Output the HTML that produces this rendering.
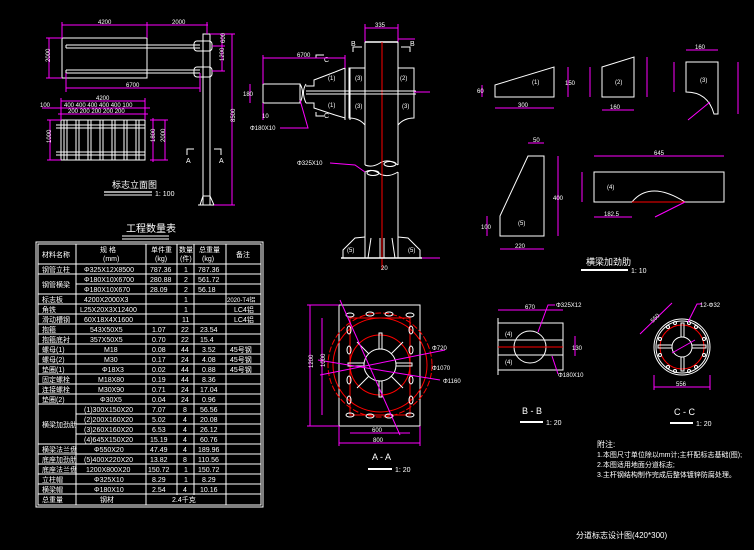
<!DOCTYPE html>
<html><head><meta charset="utf-8"><style>
html,body{margin:0;padding:0;background:#000;width:754px;height:550px;overflow:hidden}
svg{display:block}
text{font-family:"Liberation Sans","Noto Sans CJK SC",sans-serif;fill:#fff}
.w{stroke:#fff;fill:none;stroke-width:1}
.m{stroke:#f0f;fill:none;stroke-width:1}
.r{stroke:#f00;fill:none;stroke-width:1}
.t{font-size:7px}
.mt{font-size:6px}
</style></head><body>
<svg width="754" height="550" viewBox="0 0 754 550" xmlns="http://www.w3.org/2000/svg">
<rect width="754" height="550" fill="#000"/>

<!-- ========== Top-left front elevation ========== -->
<g>
<rect class="w" x="62" y="38" width="85" height="40"/>
<line class="w" x1="66" y1="45" x2="200" y2="45"/><line class="w" x1="66" y1="48" x2="200" y2="48"/>
<line class="w" x1="66" y1="45" x2="66" y2="48"/>
<line class="w" x1="66" y1="70" x2="200" y2="70"/><line class="w" x1="66" y1="73" x2="200" y2="73"/>
<line class="w" x1="66" y1="70" x2="66" y2="73"/>
<rect class="w" x="194" y="41" width="18" height="10" rx="3"/>
<rect class="w" x="194" y="67" width="18" height="10" rx="3"/>
<rect class="w" x="203" y="34" width="7" height="171"/>
<path class="w" d="M200 205 L203 196 L210 196 L214 205 Z"/>
<line class="w" x1="198" y1="205" x2="216" y2="205"/>
<path class="w" d="M187 155 V149 H194 M214 149 H221 V155"/>
<text class="t" x="186" y="163">A</text><text class="t" x="219" y="163">A</text>
<!-- dims -->
<line class="m" x1="62" y1="25" x2="208" y2="25"/><line class="m" x1="62" y1="22" x2="62" y2="38"/>
<line class="m" x1="147" y1="22" x2="147" y2="38"/><line class="m" x1="207" y1="22" x2="207" y2="34"/>
<text class="mt" x="98" y="24">4200</text><text class="mt" x="172" y="24">2000</text>
<line class="m" x1="49" y1="38" x2="49" y2="78"/><line class="m" x1="46" y1="38" x2="62" y2="38"/><line class="m" x1="46" y1="78" x2="62" y2="78"/>
<text class="mt" x="42" y="62" transform="rotate(-90 46 58)">2000</text>
<line class="m" x1="66" y1="88" x2="200" y2="88"/><line class="m" x1="66" y1="73" x2="66" y2="92"/><line class="m" x1="200" y1="73" x2="200" y2="92"/>
<text class="mt" x="126" y="87">6700</text>
<line class="m" x1="232" y1="34" x2="232" y2="205"/><line class="m" x1="210" y1="34" x2="235" y2="34"/><line class="m" x1="214" y1="205" x2="235" y2="205"/>
<text class="mt" x="228" y="125" transform="rotate(-90 230 120)">8500</text>
<line class="m" x1="222" y1="34" x2="222" y2="71"/><line class="m" x1="212" y1="46" x2="225" y2="46"/><line class="m" x1="212" y1="71" x2="225" y2="71"/>
<text class="mt" x="217" y="45" transform="rotate(-90 220 40)">600</text>
<text class="mt" x="217" y="62" transform="rotate(-90 220 58)">1200</text>
<text x="112" y="188" style="font-size:9px">标志立面图</text>
<line x1="104" y1="192" x2="152" y2="192" stroke="#fff" stroke-width="1.2"/><line x1="104" y1="195" x2="152" y2="195" stroke="#fff"/>
<text class="t" x="155" y="196">1: 100</text>
</g>

<!-- plan -->
<g>
<rect class="w" x="61" y="120" width="84" height="40"/>
<line class="w" x1="56" y1="125" x2="145" y2="125"/><line class="w" x1="56" y1="128" x2="145" y2="128"/>
<line class="w" x1="56" y1="152" x2="145" y2="152"/><line class="w" x1="56" y1="155" x2="145" y2="155"/>
<g class="w">
<line x1="64" y1="120" x2="64" y2="160"/><line x1="67" y1="120" x2="67" y2="160"/>
<line x1="76" y1="120" x2="76" y2="160"/><line x1="79" y1="120" x2="79" y2="160"/>
<line x1="88" y1="120" x2="88" y2="160"/><line x1="91" y1="120" x2="91" y2="160"/>
<line x1="100" y1="120" x2="100" y2="160"/><line x1="103" y1="120" x2="103" y2="160"/>
<line x1="112" y1="120" x2="112" y2="160"/><line x1="115" y1="120" x2="115" y2="160"/>
<line x1="124" y1="120" x2="124" y2="160"/><line x1="127" y1="120" x2="127" y2="160"/>
<line x1="136" y1="120" x2="136" y2="160"/><line x1="139" y1="120" x2="139" y2="160"/>
</g>
<line class="m" x1="61" y1="101" x2="145" y2="101"/><line class="m" x1="61" y1="98" x2="61" y2="120"/><line class="m" x1="145" y1="98" x2="145" y2="120"/>
<text class="mt" x="96" y="100">4200</text>
<line class="m" x1="42" y1="108" x2="150" y2="108"/>
<line class="m" x1="58" y1="114" x2="148" y2="114"/>
<text class="mt" x="40" y="107">100</text>
<text class="mt" x="64" y="107">400 400 400 400 400 100</text>
<text class="mt" x="68" y="113">200 200 200 200 200</text>
<line class="m" x1="50" y1="120" x2="50" y2="160"/><line class="m" x1="47" y1="120" x2="61" y2="120"/><line class="m" x1="47" y1="160" x2="61" y2="160"/>
<text class="mt" x="45" y="143" transform="rotate(-90 48 140)">1000</text>
<line class="m" x1="150" y1="120" x2="168" y2="120"/><line class="m" x1="150" y1="160" x2="168" y2="160"/>
<line class="m" x1="165" y1="120" x2="165" y2="160"/><line class="m" x1="153" y1="118" x2="153" y2="162"/>
<text class="mt" x="160" y="143" transform="rotate(-90 162 140)">2000</text>
<text class="mt" x="150" y="143" transform="rotate(-90 152 140)">1800</text>
</g>

<!-- ========== middle pole detail ========== -->
<g>
<line class="m" x1="365" y1="24" x2="365" y2="42"/><line class="m" x1="398" y1="24" x2="398" y2="42"/>
<line class="m" x1="365" y1="28" x2="398" y2="28"/><text class="mt" x="375" y="27">335</text>
<line x1="365" y1="42" x2="398" y2="42" stroke="#fff" stroke-width="1.5"/>
<line class="w" x1="365" y1="42" x2="365" y2="165"/><line class="w" x1="398" y1="42" x2="398" y2="165"/>
<path class="w" d="M365 165 Q372 168 380 163 Q388 158 398 165"/>
<path class="w" d="M365 172 Q372 168 380 174 Q388 178 398 172"/>
<ellipse class="w" cx="390" cy="164" rx="6" ry="2.5"/><ellipse class="w" cx="373" cy="173" rx="6" ry="2.5"/>
<line class="w" x1="365" y1="172" x2="365" y2="258"/><line class="w" x1="398" y1="172" x2="398" y2="258"/>
<line class="r" x1="382" y1="42" x2="382" y2="270"/>
<!-- right stiffeners -->
<path class="w" d="M398 68 L414 68 L414 118 Q404 118 398 125"/>
<path class="w" d="M365 68 L349 68 L349 118 Q359 118 365 125"/>
<text class="mt" x="400" y="80">(2)</text><text class="mt" x="402" y="108">(3)</text>
<text class="mt" x="355" y="80">(3)</text><text class="mt" x="355" y="108">(3)</text>
<!-- arm -->
<path class="w" d="M335 72 L345 68 L345 118 L335 115"/>
<text class="mt" x="328" y="80">(1)</text><text class="mt" x="328" y="107">(1)</text>
<line class="w" x1="345" y1="68" x2="345" y2="120"/><line class="w" x1="350" y1="68" x2="350" y2="120"/>
<line class="w" x1="306" y1="91" x2="416" y2="91"/><line class="w" x1="306" y1="94" x2="416" y2="94"/>
<path class="w" d="M335 72 L314 80 L314 86 L306 86"/><path class="w" d="M335 115 L314 108 L314 103 L306 103"/>
<rect class="w" x="263" y="84" width="37" height="19"/>
<path class="w" d="M300 84 Q305 92 300 103"/><path class="w" d="M306 84 Q301 92 306 103"/>
<path class="w" d="M316 58 V55 H324"/><path class="w" d="M316 112 V116 H324"/>
<text class="t" x="324" y="62">C</text><text class="t" x="324" y="118">C</text>
<path class="w" d="M353 52 V47 H362"/><path class="w" d="M401 47 H410 V52"/>
<text class="t" x="351" y="46">B</text><text class="t" x="410" y="46">B</text>
<line class="m" x1="263" y1="58" x2="345" y2="58"/><line class="m" x1="263" y1="55" x2="263" y2="84"/><line class="m" x1="345" y1="55" x2="345" y2="68"/>
<text class="mt" x="297" y="57">6700</text>
<line class="m" x1="250" y1="84" x2="250" y2="103"/><text class="mt" x="243" y="96">180</text>
<line class="m" x1="263" y1="103" x2="263" y2="120"/><text class="mt" x="262" y="118">10</text>
<path class="m" d="M300 100 L308 128 L280 128"/><text class="mt" x="250" y="130">Φ180X10</text>
<path class="m" d="M330 163 L355 165 L365 172"/><text class="mt" x="297" y="165">Φ325X10</text>
<line class="m" x1="414" y1="92" x2="430" y2="92"/><line class="m" x1="398" y1="39" x2="415" y2="39"/>
<!-- base -->
<path class="w" d="M365 237 L355 238 L343 250 L343 258"/><path class="w" d="M398 237 L408 238 L420 250 L420 258"/>
<line class="w" x1="371" y1="238" x2="368" y2="258"/><line class="w" x1="392" y1="238" x2="395" y2="258"/>
<line class="w" x1="380" y1="238" x2="380" y2="258"/><line class="w" x1="384" y1="238" x2="384" y2="258"/>
<line x1="341" y1="258" x2="422" y2="258" stroke="#fff" stroke-width="1.5"/>
<text class="mt" x="347" y="252">(5)</text><text class="mt" x="408" y="252">(5)</text>
<line class="m" x1="422" y1="258" x2="440" y2="258"/><text class="mt" x="381" y="270">20</text>
</g>

<!-- ========== stiffener plates ========== -->
<g>
<path class="w" d="M495 85 L554 67 L554 97 L495 97 Z"/><text class="mt" x="532" y="84">(1)</text>
<line class="m" x1="495" y1="108" x2="554" y2="108"/><text class="mt" x="518" y="107">300</text>
<line class="m" x1="482" y1="85" x2="482" y2="97"/><text class="mt" x="477" y="93">60</text>
<line class="m" x1="568" y1="67" x2="568" y2="97"/><text class="mt" x="565" y="85">150</text>
<path class="w" d="M602 67 L634 57 L634 97 L602 97 Z"/><text class="mt" x="615" y="84">(2)</text>
<line class="m" x1="602" y1="110" x2="634" y2="110"/><text class="mt" x="610" y="109">160</text>
<line class="m" x1="590" y1="67" x2="590" y2="97"/><line class="m" x1="647" y1="57" x2="647" y2="97"/>
<path class="w" d="M686 62 L718 62 L718 114 L714 114 Q708 92 686 92 Z"/><text class="mt" x="700" y="82">(3)</text>
<line class="m" x1="686" y1="50" x2="718" y2="50"/><text class="mt" x="695" y="49">160</text>
<line class="m" x1="674" y1="62" x2="674" y2="92"/><line class="m" x1="738" y1="62" x2="738" y2="114"/>
<line class="m" x1="688" y1="120" x2="710" y2="102"/>
<path class="w" d="M528 156 L544 156 L544 236 L500 236 L500 216 Z"/><text class="mt" x="518" y="225">(5)</text>
<line class="m" x1="528" y1="143" x2="544" y2="143"/><text class="mt" x="533" y="142">50</text>
<line class="m" x1="558" y1="156" x2="558" y2="236"/><text class="mt" x="553" y="200">400</text>
<line class="m" x1="500" y1="249" x2="544" y2="249"/><text class="mt" x="515" y="248">220</text>
<line class="m" x1="487" y1="216" x2="487" y2="236"/><text class="mt" x="481" y="229">100</text>
<rect class="w" x="594" y="172" width="130" height="30"/><text class="mt" x="607" y="189">(4)</text>
<path class="w" d="M632 202 Q650 180 685 202"/><line class="r" x1="632" y1="202" x2="685" y2="202"/>
<line class="m" x1="594" y1="156" x2="724" y2="156"/><text class="mt" x="654" y="155">645</text>
<line class="m" x1="582" y1="172" x2="582" y2="202"/><line class="m" x1="594" y1="217" x2="632" y2="217"/>
<text class="mt" x="604" y="216">182.5</text><line class="m" x1="655" y1="217" x2="685" y2="202"/>
<text x="586" y="265" style="font-size:9px">横梁加劲肋</text>
<line x1="581" y1="270" x2="628" y2="270" stroke="#fff" stroke-width="2"/><text class="t" x="631" y="273">1: 10</text>
</g>

<!-- ========== Table ========== -->
<g>
<text x="126" y="232" style="font-size:10px">工程数量表</text>
<line x1="122" y1="236" x2="169" y2="236" stroke="#fff"/><line x1="122" y1="239" x2="169" y2="239" stroke="#fff"/>
<rect class="w" x="36" y="242" width="227" height="265"/>
<rect class="w" x="38" y="244" width="223" height="261"/>
<g class="w">
<line x1="76" y1="244" x2="76" y2="505"/><line x1="146" y1="244" x2="146" y2="505"/>
<line x1="177" y1="244" x2="177" y2="495"/><line x1="194" y1="244" x2="194" y2="495"/>
<line x1="226" y1="244" x2="226" y2="505"/>
<line x1="38" y1="264" x2="261" y2="264"/><line x1="38" y1="274" x2="261" y2="274"/>
<line x1="76" y1="284" x2="261" y2="284"/><line x1="38" y1="294" x2="261" y2="294"/>
<line x1="38" y1="304" x2="261" y2="304"/><line x1="38" y1="314" x2="261" y2="314"/>
<line x1="38" y1="324" x2="261" y2="324"/><line x1="38" y1="334" x2="261" y2="334"/>
<line x1="38" y1="344" x2="261" y2="344"/><line x1="38" y1="354" x2="261" y2="354"/>
<line x1="38" y1="364" x2="261" y2="364"/><line x1="38" y1="374" x2="261" y2="374"/>
<line x1="38" y1="384" x2="261" y2="384"/><line x1="38" y1="394" x2="261" y2="394"/>
<line x1="38" y1="404" x2="261" y2="404"/>
<line x1="76" y1="414" x2="261" y2="414"/><line x1="76" y1="424" x2="261" y2="424"/>
<line x1="76" y1="434" x2="261" y2="434"/>
<line x1="38" y1="444" x2="261" y2="444"/><line x1="38" y1="454" x2="261" y2="454"/>
<line x1="38" y1="464" x2="261" y2="464"/><line x1="38" y1="474" x2="261" y2="474"/>
<line x1="38" y1="484" x2="261" y2="484"/><line x1="38" y1="494" x2="261" y2="494"/>
</g>
<g class="t">
<text x="42" y="257">材料名称</text><text x="100" y="252">规 格</text><text x="103" y="261">(mm)</text>
<text x="151" y="252">单件重</text><text x="155" y="261">(kg)</text>
<text x="179" y="252">数量</text><text x="180" y="261">(件)</text>
<text x="199" y="252">总重量</text><text x="202" y="261">(kg)</text><text x="236" y="257">备注</text>
</g>
<g class="t">
<text x="42" y="272">钢管立柱</text><text x="84" y="272">Φ325X12X8500</text><text x="150" y="272">787.36</text><text x="184" y="272">1</text><text x="198" y="272">787.36</text>
<text x="42" y="287">钢管横梁</text><text x="84" y="282">Φ180X10X6700</text><text x="150" y="282">280.88</text><text x="184" y="282">2</text><text x="198" y="282">561.72</text>
<text x="84" y="292">Φ180X10X670</text><text x="150" y="292">28.09</text><text x="184" y="292">2</text><text x="198" y="292">56.18</text>
<text x="42" y="302">标志板</text><text x="84" y="302">4200X2000X3</text><text x="184" y="302">1</text><text x="227" y="302" style="font-size:6px">2020-T4铝</text>
<text x="42" y="312">角铁</text><text x="80" y="312">L25X20X3X12400</text><text x="184" y="312">1</text><text x="234" y="312">LC4铝</text>
<text x="42" y="322">滑动槽钢</text><text x="84" y="322">60X18X4X1600</text><text x="182" y="322">11</text><text x="234" y="322">LC4铝</text>
<text x="42" y="332">抱箍</text><text x="90" y="332">543X50X5</text><text x="152" y="332">1.07</text><text x="181" y="332">22</text><text x="200" y="332">23.54</text>
<text x="42" y="342">抱箍底衬</text><text x="90" y="342">357X50X5</text><text x="152" y="342">0.70</text><text x="181" y="342">22</text><text x="200" y="342">15.4</text>
<text x="42" y="352">螺母(1)</text><text x="104" y="352">M18</text><text x="152" y="352">0.08</text><text x="181" y="352">44</text><text x="202" y="352">3.52</text><text x="230" y="352">45号钢</text>
<text x="42" y="362">螺母(2)</text><text x="104" y="362">M30</text><text x="152" y="362">0.17</text><text x="181" y="362">24</text><text x="202" y="362">4.08</text><text x="230" y="362">45号钢</text>
<text x="42" y="372">垫圈(1)</text><text x="102" y="372">Φ18X3</text><text x="152" y="372">0.02</text><text x="181" y="372">44</text><text x="202" y="372">0.88</text><text x="230" y="372">45号钢</text>
<text x="42" y="382">固定螺栓</text><text x="98" y="382">M18X80</text><text x="152" y="382">0.19</text><text x="181" y="382">44</text><text x="202" y="382">8.36</text>
<text x="42" y="392">连接螺栓</text><text x="98" y="392">M30X90</text><text x="152" y="392">0.71</text><text x="181" y="392">24</text><text x="200" y="392">17.04</text>
<text x="42" y="402">垫圈(2)</text><text x="100" y="402">Φ30X5</text><text x="152" y="402">0.04</text><text x="181" y="402">24</text><text x="202" y="402">0.96</text>
<text x="42" y="427">横梁加劲肋</text>
<text x="84" y="412">(1)300X150X20</text><text x="152" y="412">7.07</text><text x="183" y="412">8</text><text x="200" y="412">56.56</text>
<text x="84" y="422">(2)200X160X20</text><text x="152" y="422">5.02</text><text x="183" y="422">4</text><text x="200" y="422">20.08</text>
<text x="84" y="432">(3)260X160X20</text><text x="152" y="432">6.53</text><text x="183" y="432">4</text><text x="200" y="432">26.12</text>
<text x="84" y="442">(4)645X150X20</text><text x="150" y="442">15.19</text><text x="183" y="442">4</text><text x="200" y="442">60.76</text>
<text x="42" y="452">横梁法兰盘</text><text x="94" y="452">Φ550X20</text><text x="150" y="452">47.49</text><text x="183" y="452">4</text><text x="198" y="452">189.96</text>
<text x="42" y="462">底座加劲肋</text><text x="84" y="462">(5)400X220X20</text><text x="150" y="462">13.82</text><text x="183" y="462">8</text><text x="198" y="462">110.56</text>
<text x="42" y="472">底座法兰盘</text><text x="86" y="472">1200X800X20</text><text x="148" y="472">150.72</text><text x="184" y="472">1</text><text x="198" y="472">150.72</text>
<text x="42" y="482">立柱帽</text><text x="94" y="482">Φ325X10</text><text x="152" y="482">8.29</text><text x="184" y="482">1</text><text x="202" y="482">8.29</text>
<text x="42" y="492">横梁帽</text><text x="94" y="492">Φ180X10</text><text x="152" y="492">2.54</text><text x="183" y="492">4</text><text x="200" y="492">10.16</text>
<text x="42" y="502">总重量</text><text x="100" y="502">钢材</text><text x="172" y="502">2.4千克</text>
</g>
</g>

<!-- ========== A-A ========== -->
<g>
<rect class="w" x="339" y="305" width="81" height="121"/>
<circle class="r" cx="380" cy="365" r="47"/>
<circle class="r" cx="380" cy="365" r="52" stroke-dasharray="6 2"/>
<circle class="r" cx="380" cy="365" r="30"/>
<rect class="r" x="350" y="318" width="60" height="97"/>
<circle class="w" cx="380" cy="365" r="16"/>
<g class="w">
<rect x="348" y="363" width="16" height="3"/><rect x="396" y="363" width="16" height="3"/>
<rect x="379" y="333" width="3" height="16"/><rect x="379" y="381" width="3" height="16"/>
<line x1="357" y1="342" x2="369" y2="354"/><line x1="403" y1="342" x2="391" y2="354"/>
<line x1="357" y1="388" x2="369" y2="376"/><line x1="403" y1="388" x2="391" y2="376"/>
</g>
<g class="w">
<ellipse cx="350" cy="315" rx="4" ry="2"/><ellipse cx="370" cy="314" rx="4" ry="2"/><ellipse cx="389" cy="314" rx="4" ry="2"/><ellipse cx="410" cy="315" rx="4" ry="2"/>
<ellipse cx="350" cy="415" rx="4" ry="2"/><ellipse cx="370" cy="416" rx="4" ry="2"/><ellipse cx="389" cy="416" rx="4" ry="2"/><ellipse cx="410" cy="415" rx="4" ry="2"/>
<ellipse cx="349" cy="330" rx="2" ry="4"/><ellipse cx="349" cy="350" rx="2" ry="4"/><ellipse cx="349" cy="380" rx="2" ry="4"/><ellipse cx="349" cy="400" rx="2" ry="4"/>
<ellipse cx="411" cy="330" rx="2" ry="4"/><ellipse cx="411" cy="350" rx="2" ry="4"/><ellipse cx="411" cy="380" rx="2" ry="4"/><ellipse cx="411" cy="400" rx="2" ry="4"/>
</g>
<line class="m" x1="318" y1="360" x2="440" y2="380"/><line class="m" x1="320" y1="375" x2="445" y2="350"/>
<line class="m" x1="340" y1="300" x2="400" y2="435"/>
<line class="m" x1="310" y1="305" x2="310" y2="426"/><line class="m" x1="307" y1="305" x2="339" y2="305"/><line class="m" x1="307" y1="426" x2="339" y2="426"/>
<line class="m" x1="322" y1="318" x2="322" y2="415"/>
<text class="mt" x="305" y="370" transform="rotate(-90 308 365)">1200</text>
<text class="mt" x="318" y="370" transform="rotate(-90 320 365)">1000</text>
<line class="m" x1="350" y1="433" x2="410" y2="433"/><line class="m" x1="339" y1="443" x2="420" y2="443"/>
<line class="m" x1="339" y1="426" x2="339" y2="446"/><line class="m" x1="420" y1="426" x2="420" y2="446"/>
<text class="mt" x="372" y="432">600</text><text class="mt" x="373" y="442">800</text>
<text class="mt" x="432" y="370">Φ1070</text><text class="mt" x="443" y="383">Φ1160</text><text class="mt" x="432" y="350">Φ720</text>
<text x="372" y="460" style="font-size:9px">A - A</text>
<line x1="368" y1="469" x2="392" y2="469" stroke="#fff" stroke-width="2"/><text class="t" x="395" y="472">1: 20</text>
</g>

<!-- ========== B-B ========== -->
<g>
<rect class="w" x="498" y="323" width="65" height="47"/>
<line class="w" x1="498" y1="318" x2="498" y2="375"/>
<line class="w" x1="498" y1="340" x2="563" y2="340"/><line class="w" x1="498" y1="355" x2="563" y2="355"/>
<circle class="w" cx="530" cy="347" r="16" fill="#000"/>
<line class="r" x1="498" y1="347" x2="563" y2="347"/>
<text class="mt" x="505" y="336">(4)</text><text class="mt" x="505" y="364">(4)</text>
<line class="m" x1="498" y1="310" x2="563" y2="310"/><text class="mt" x="525" y="309">670</text>
<line class="m" x1="575" y1="336" x2="575" y2="356"/><text class="mt" x="572" y="350">130</text>
<path class="m" d="M538 332 L548 305 L555 305"/><text class="mt" x="556" y="307">Φ325X12</text>
<path class="m" d="M552 356 L558 374"/><text class="mt" x="558" y="377">Φ180X10</text>
<text x="522" y="414" style="font-size:9px">B - B</text>
<line x1="520" y1="422" x2="543" y2="422" stroke="#fff" stroke-width="2"/><text class="t" x="546" y="425">1: 20</text>
</g>

<!-- ========== C-C ========== -->
<g>
<circle class="w" cx="682" cy="347" r="28"/><circle class="w" cx="682" cy="347" r="26"/>
<circle class="r" cx="682" cy="347" r="22"/>
<circle class="w" cx="682" cy="347" r="10"/>
<rect class="w" x="658" y="345" width="14" height="3"/><rect class="w" x="692" y="345" width="14" height="3"/>
<rect class="w" x="681" y="323" width="3" height="14"/><rect class="w" x="681" y="357" width="3" height="14"/>
<g class="w">
<circle cx="660" cy="339" r="1.5"/><circle cx="660" cy="355" r="1.5"/><circle cx="704" cy="339" r="1.5"/><circle cx="704" cy="355" r="1.5"/>
<circle cx="668" cy="327" r="1.5"/><circle cx="696" cy="327" r="1.5"/><circle cx="668" cy="367" r="1.5"/><circle cx="696" cy="367" r="1.5"/>
<circle cx="675" cy="323" r="1.5"/><circle cx="689" cy="323" r="1.5"/><circle cx="675" cy="371" r="1.5"/><circle cx="689" cy="371" r="1.5"/>
</g>
<line class="m" x1="672" y1="353" x2="695" y2="340"/>
<line class="m" x1="640" y1="334" x2="672" y2="303"/>
<path class="m" d="M688 322 L697 304 L702 304"/><text class="mt" x="700" y="307">12-Φ32</text>
<text class="mt" x="650" y="320" transform="rotate(-45 655 318)">550</text>
<line class="m" x1="654" y1="387" x2="710" y2="387"/><line class="m" x1="654" y1="375" x2="654" y2="390"/><line class="m" x1="710" y1="375" x2="710" y2="390"/>
<text class="mt" x="676" y="386">556</text>
<text x="674" y="415" style="font-size:9px">C - C</text>
<line x1="670" y1="423" x2="693" y2="423" stroke="#fff" stroke-width="2"/><text class="t" x="696" y="426">1: 20</text>
</g>

<!-- notes -->
<g style="font-size:7px">
<text x="597" y="447" style="font-size:8px">附注:</text>
<text x="597" y="457">1.本图尺寸单位除以mm计;主杆配标志基础(图);</text>
<text x="597" y="467">2.本图适用地面分道标志;</text>
<text x="597" y="477">3.主杆钢结构制作完成后整体镀锌防腐处理。</text>
<text x="576" y="538" style="font-size:8px">分道标志设计图(420*300)</text>
</g>
</svg>
</body></html>
